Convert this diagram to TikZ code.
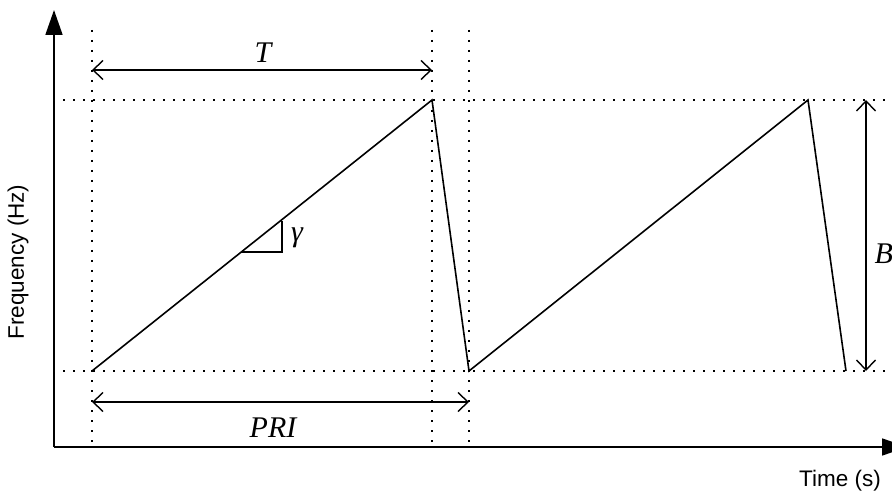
\documentclass[tikz,border=0pt]{standalone}
\usepackage{fontspec}
\setmainfont{Liberation Serif}
\setsansfont{Liberation Sans}
\usetikzlibrary{arrows.meta}
\begin{document}
\begin{tikzpicture}[x=1pt,y=-1pt,
  axis/.style={line width=1.8pt,-{Triangle[length=25pt,width=17pt]}},
  guide/.style={line width=1.4pt,dash pattern=on 1.6pt off 8.4pt},
  dimline/.style={line width=1.4pt,{Straight Barb[length=10pt,width=19pt]}-{Straight Barb[length=10pt,width=19pt]}},
  sig/.style={line width=1.6pt,line join=miter},
  mathlbl/.style={font=\fontsize{30}{34}\selectfont\itshape},
  axlbl/.style={font=\sffamily\fontsize{22.5}{26}\selectfont}]
\useasboundingbox (0,0) rectangle (892,497);
% points
\coordinate (o) at (54,447);
\coordinate (ytip) at (54,10);
\coordinate (xtip) at (907,447);
\coordinate (p0) at (92,371);
\coordinate (p1) at (432,100);
\coordinate (p2) at (469,371);
\coordinate (p3) at (808,100);
\coordinate (p4) at (846,371);
% guides
\draw[guide] (92,30) -- (92,447);
\draw[guide] (432,30) -- (432,447);
\draw[guide] (469,30) -- (469,447);
\draw[guide] (63,100) -- (892,100);
\draw[guide] (63,371) -- (886,371);
% axes
\draw[axis] (o) -- (ytip);
\draw[axis] (o) -- (xtip);
% signal
\draw[sig] (p0) -- (p1) -- (p2) -- (p3) -- (p4);
% slope triangle
\draw[line width=1.4pt] (241,252) -- (282,252) -- (282,221);
% dimension arrows
\coordinate (ta) at (92,70);
\coordinate (tb) at (432,70);
\draw[dimline] (ta) -- (tb);
\coordinate (pa) at (92,402);
\coordinate (pb) at (469,402);
\draw[dimline] (pa) -- (pb);
\coordinate (ba) at (866,100);
\coordinate (bb) at (866,371);
\draw[dimline] (ba) -- (bb);
% labels
\node[mathlbl] (tl) at (263,53) {T};
\node[mathlbl] (pril) at (273,428) {PRI};
\node[mathlbl,anchor=west] (bl) at (871,254) {B};
\node[mathlbl] (gl) at (297,238) {γ};
\node[axlbl,rotate=90] (fl) at (18,262) {Frequency (Hz)};
\node[axlbl] (tml) at (840,481) {Time (s)};
\end{tikzpicture}
\end{document}
